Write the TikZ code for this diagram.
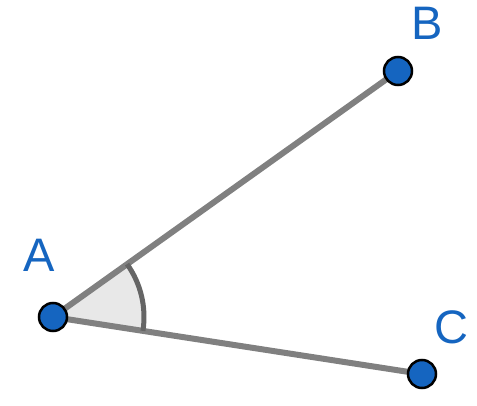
\documentclass[tikz,border=0pt]{standalone}
\usepackage{fontspec}
\setmainfont{Liberation Sans}
\usetikzlibrary{calc}
\definecolor{ptblue}{HTML}{1565C0}
\definecolor{seggray}{HTML}{808080}
\definecolor{arcgray}{HTML}{656565}
\definecolor{arcfill}{HTML}{E8E8E8}
\begin{document}
\begin{tikzpicture}[x=1pt,y=-1pt,
  pt/.style={circle,fill=ptblue,draw=black,line width=2.5pt,minimum size=28pt,inner sep=0pt},
  lbl/.style={text=ptblue,font=\fontsize{47}{47}\selectfont,inner sep=0pt},
  seg/.style={draw=seggray,line width=6pt}]
\useasboundingbox (0,0) rectangle (477,406);
\coordinate (A) at (53,317);
\coordinate (B) at (398,71);
\coordinate (C) at (422,374);
% angle sector
\fill[arcfill] (A) -- ($(A)!91pt!(B)$) arc[start angle={atan2(71-317,398-53)}, end angle={atan2(374-317,422-53)}, radius=91] -- cycle;
\draw[seg] (A) -- (B);
\draw[seg] (A) -- (C);
\draw[draw=arcgray,line width=5pt] ($(A)!91pt!(B)$) arc[start angle={atan2(71-317,398-53)}, end angle={atan2(374-317,422-53)}, radius=91];
\node[pt] (a) at (A) {};
\node[pt] (b) at (B) {};
\node[pt] (c) at (C) {};
\node[lbl] (la) at (39,255) {A};
\node[lbl] (lb) at (427,23) {B};
\node[lbl] (lc) at (451,327) {C};
\end{tikzpicture}
\end{document}
